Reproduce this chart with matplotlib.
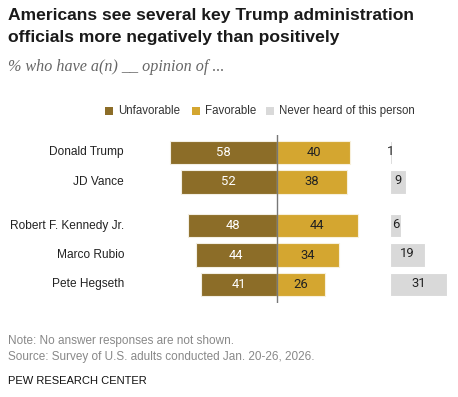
import numpy as np
import matplotlib.pyplot as plt
from matplotlib.patches import Rectangle
import matplotlib.transforms as mtransforms

# data
names = ["Donald Trump", "JD Vance", "Robert F. Kennedy Jr.", "Marco Rubio", "Pete Hegseth"]
unfavorable = [58, 52, 48, 44, 41]
favorable = [40, 38, 44, 34, 26]
never_heard = [1, 9, 6, 19, 31]
row_pos = [0, 1, 2.5, 3.5, 4.5]

c_unfav = "#8C6D28"
c_fav = "#D4A630"
c_never = "#D9D9D9"
never_offset = 61.5

plt.rcParams['font.family'] = ['Liberation Sans', 'DejaVu Sans']
W, H = 458, 397
fig = plt.figure(figsize=(W / 100, H / 100), dpi=100)

# axes placed in pixel terms
px_left, px_right = 150, 456
px_top, px_bot = 134.9, 303.4
ax = fig.add_axes([px_left / W, 1 - px_bot / H, (px_right - px_left) / W, (px_bot - px_top) / H])
scale = 1.84
center = 276.7
ax.set_xlim((px_left - center) / scale, (px_right - center) / scale)
ax.set_ylim(5.15, -0.6)
ax.axis("off")

h = 0.80
fs = 9.4
nf = "Roboto"
for y, u, f, n in zip(row_pos, unfavorable, favorable, never_heard):
    ax.barh(y, -u, height=h, color=c_unfav, edgecolor="#f3efe4", linewidth=0.8)
    ax.barh(y, f, height=h, color=c_fav, edgecolor="#f8f0dc", linewidth=0.8)
    ax.barh(y, n, left=never_offset, height=h, color=c_never, edgecolor="white", linewidth=0.8)
    ax.text(-u / 2, y, str(u), color="white", ha="center", va="center", fontsize=fs, family=nf)
    ax.text(f / 2, y, str(f), color="#222222", ha="center", va="center", fontsize=fs, family=nf)
    ax.text(never_offset + n / 2, y - 0.04, str(n), color="#222222", ha="center", va="center",
            fontsize=fs, family=nf)

ax.axvline(0, color="#777777", linewidth=1.0)

# row labels
trans = mtransforms.blended_transform_factory(fig.transFigure, ax.transData)
for y, name in zip(row_pos, names):
    ax.text(124 / W, y, name, transform=trans, ha="right", va="center", fontsize=8.6, color="#222222")

# title, subtitle
fig.text(8 / W, 1 - 20 / H, "Americans see several key Trump administration", ha="left", va="baseline",
         fontsize=12.6, fontweight="bold", color="#1a1a1a")
fig.text(8 / W, 1 - 42 / H, "officials more negatively than positively", ha="left", va="baseline",
         fontsize=12.6, fontweight="bold", color="#1a1a1a")
fig.text(8 / W, 1 - 67 / H, "% who have a(n) __ opinion of ...", ha="left", va="center",
         fontsize=11.6, style="italic", family="Liberation Serif", color="#666666")

# legend
leg = [(105, c_unfav, "Unfavorable"), (192, c_fav, "Favorable"), (266, c_never, "Never heard of this person")]
for x0, col, lab in leg:
    fig.patches.append(Rectangle((x0 / W, 1 - 115 / H), 8 / W, 8 / H, transform=fig.transFigure,
                                 facecolor=col, edgecolor="none"))
    fig.text((x0 + 13) / W, 1 - 111 / H, lab, ha="left", va="center", fontsize=8.3, color="#333333")

# footer
fig.text(8 / W, 1 - 341 / H, "Note: No answer responses are not shown.", ha="left", va="center",
         fontsize=8.5, color="#888888")
fig.text(8 / W, 1 - 357 / H, "Source: Survey of U.S. adults conducted Jan. 20-26, 2026.", ha="left",
         va="center", fontsize=8.5, color="#888888")
fig.text(8 / W, 1 - 381 / H, "PEW RESEARCH CENTER", ha="left", va="center", fontsize=8,
         color="#111111")

fig.savefig("out.png", dpi=100, facecolor="white")
